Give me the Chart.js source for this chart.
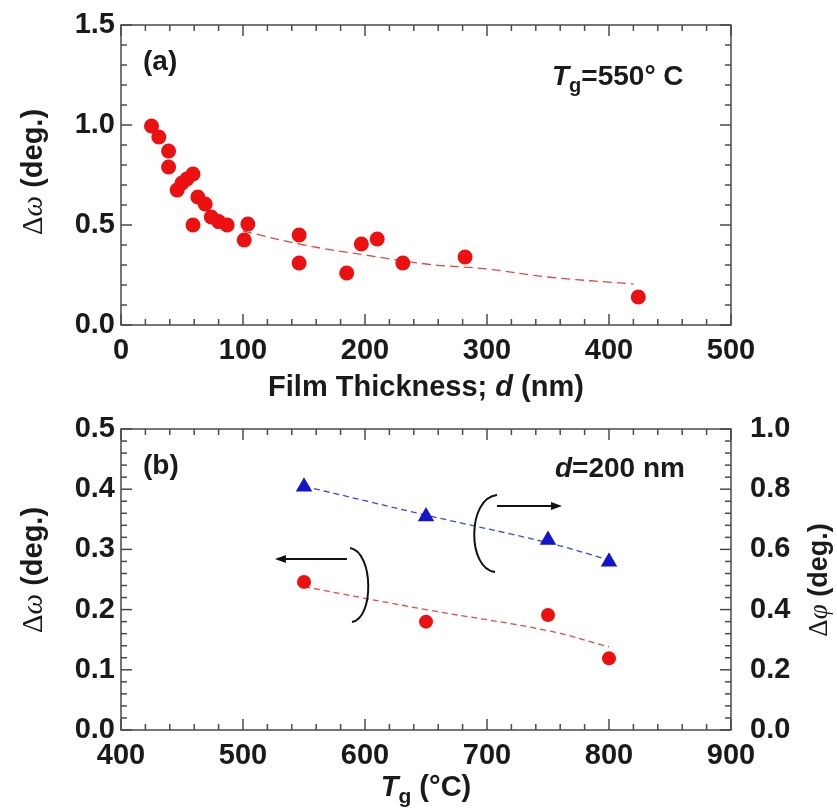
<!DOCTYPE html>
<html>
<head>
<meta charset="utf-8">
<script src="https://cdn.jsdelivr.net/npm/chart.js@4.4.1/dist/chart.umd.min.js"></script>
<style>
  html, body { margin: 0; padding: 0; background: #fff; }
  #wrap { position: relative; width: 837px; height: 810px; }
  .panel { position: absolute; left: 0; width: 837px; }
  #pa { top: 0; height: 412px; }
  #pb { top: 400px; height: 410px; }
</style>
</head>
<body>
<div id="wrap">
  <div class="panel" id="pa"><canvas id="chartA"></canvas></div>
  <div class="panel" id="pb"><canvas id="chartB"></canvas></div>
</div>
<script>
// (a) rocking-curve width vs film thickness, Tg = 550 C
const thickness = [25, 31, 39, 39, 46, 50, 54, 59, 59, 63, 69, 74, 80, 87, 101, 104, 146, 146, 185, 197, 210, 231, 282, 424];
const omegaA = [0.995, 0.94, 0.87, 0.79, 0.675, 0.71, 0.73, 0.755, 0.50, 0.64, 0.605, 0.54, 0.517, 0.50, 0.425, 0.505, 0.45, 0.31, 0.26, 0.405, 0.43, 0.31, 0.34, 0.14];
const fitThickness = [100, 150, 200, 250, 300, 350, 420];
const fitOmegaA = [0.47, 0.40, 0.35, 0.305, 0.28, 0.24, 0.205];
const thicknessTicks = [0, 100, 200, 300, 400, 500];
const omegaTicksA = [0, 0.5, 1.0, 1.5];

// (b) widths vs growth temperature, d = 200 nm
const growthTemp = [550, 650, 750, 800];
const omegaB = [0.246, 0.180, 0.191, 0.119];
const phiB = [0.808, 0.709, 0.631, 0.559];
const fitOmegaB = [0.238, 0.200, 0.165, 0.138];
const fitPhiB = [0.81, 0.714, 0.622, 0.565];
const tempTicks = [400, 500, 600, 700, 800, 900];
const omegaTicksB = [0, 0.1, 0.2, 0.3, 0.4, 0.5];
const phiTicksB = [0, 0.2, 0.4, 0.6, 0.8, 1.0];

const ink = '#1a1a1a';
const sans = "'Liberation Sans', Arial, sans-serif";
const serif = "'Liberation Serif', 'Times New Roman', serif";
const tickFont = { family: sans, size: 29, weight: 'bold' };
const red = '#ec1010';
const blue = '#1414cc';

const pts = (xs, ys) => xs.map((x, i) => ({ x: x, y: ys[i] }));
const useTicks = list => s => { s.ticks = list.map(v => ({ value: v })); };
// fixed axis thickness, no extra room for end labels
const fixWidth = w => s => { s.width = w; s.paddingTop = 0; s.paddingBottom = 0; };
const fixHeight = h => s => { s.height = h; s.paddingLeft = 0; s.paddingRight = 0; };

// draws a line of mixed-font text, centred or left aligned, optionally rotated
function drawRuns(ctx, runs, x, y, align, rotate) {
  ctx.save();
  ctx.translate(x, y);
  if (rotate) ctx.rotate(rotate);
  let total = 0;
  runs.forEach(r => { ctx.font = r.font; r.w = ctx.measureText(r.text).width; total += r.w; });
  let cx = align === 'left' ? 0 : -total / 2;
  ctx.textBaseline = 'alphabetic';
  ctx.textAlign = 'left';
  ctx.fillStyle = ink;
  runs.forEach(r => { ctx.font = r.font; ctx.fillText(r.text, cx, r.dy || 0); cx += r.w; });
  ctx.restore();
}

function arrow(ctx, x1, y1, x2, y2) {
  const a = Math.atan2(y2 - y1, x2 - x1);
  ctx.beginPath();
  ctx.moveTo(x1, y1);
  ctx.lineTo(x2 - 8 * Math.cos(a), y2 - 8 * Math.sin(a));
  ctx.stroke();
  ctx.beginPath();
  ctx.moveTo(x2, y2);
  ctx.lineTo(x2 - 11 * Math.cos(a) + 4 * Math.sin(a), y2 - 11 * Math.sin(a) - 4 * Math.cos(a));
  ctx.lineTo(x2 - 11 * Math.cos(a) - 4 * Math.sin(a), y2 - 11 * Math.sin(a) + 4 * Math.cos(a));
  ctx.closePath();
  ctx.fill();
}

// frame round the plot area with inward major/minor ticks
const frameTicks = {
  id: 'frameTicks',
  beforeDatasetsDraw(chart, args, opts) {
    if (!opts.axes) return;
    const { ctx, chartArea: a, scales } = chart;
    ctx.save();
    ctx.strokeStyle = '#4a4a4a';
    ctx.lineWidth = 1.5;
    const line = (x1, y1, x2, y2) => { ctx.beginPath(); ctx.moveTo(x1, y1); ctx.lineTo(x2, y2); ctx.stroke(); };
    opts.axes.forEach(ax => {
      const s = scales[ax.id];
      const n = Math.round((s.max - s.min) / ax.minor);
      for (let i = 0; i <= n; i++) {
        const v = s.min + i * ax.minor;
        const q = (v - s.min) / ax.major;
        const len = Math.abs(q - Math.round(q)) < 1e-6 ? 11 : 6;
        const p = s.getPixelForValue(v);
        ax.sides.forEach(side => {
          if (side === 'bottom') line(p, a.bottom, p, a.bottom - len);
          if (side === 'top') line(p, a.top, p, a.top + len);
          if (side === 'left') line(a.left, p, a.left + len, p);
          if (side === 'right') line(a.right, p, a.right - len, p);
        });
      }
    });
    ctx.strokeRect(a.left, a.top, a.right - a.left, a.bottom - a.top);
    ctx.restore();
  }
};
Chart.register(frameTicks);

const baseScale = {
  type: 'linear',
  grid: { display: false, drawTicks: false },
  border: { display: false }
};

// ---------- panel (a) ----------
new Chart(document.getElementById('chartA'), {
  type: 'scatter',
  data: {
    datasets: [
      {
        data: pts(thickness, omegaA),
        backgroundColor: red,
        borderWidth: 0,
        pointRadius: 7.5
      },
      {
        data: pts(fitThickness, fitOmegaA),
        showLine: true,
        tension: 0.4,
        borderColor: '#e04848',
        borderWidth: 1.3,
        borderDash: [9, 5],
        pointRadius: 0
      }
    ]
  },
  options: {
    responsive: true,
    maintainAspectRatio: false,
    animation: false,
    events: [],
    layout: { padding: { top: 25, right: 106, left: 0, bottom: 0 }, autoPadding: false },
    plugins: {
      legend: { display: false },
      tooltip: { enabled: false },
      frameTicks: {
        axes: [
          { id: 'x', major: 100, minor: 20, sides: ['bottom', 'top'] },
          { id: 'y', major: 0.5, minor: 0.1, sides: ['left', 'right'] }
        ]
      }
    },
    scales: {
      x: Object.assign({}, baseScale, {
        min: 0, max: 500,
        afterBuildTicks: useTicks(thicknessTicks),
        afterFit: fixHeight(87),
        ticks: { font: tickFont, color: ink, padding: 9, maxRotation: 0, autoSkip: false, callback: v => String(v) }
      }),
      y: Object.assign({}, baseScale, {
        min: 0, max: 1.5,
        afterBuildTicks: useTicks(omegaTicksA),
        afterFit: fixWidth(121),
        ticks: { font: tickFont, color: ink, padding: 6, autoSkip: false, callback: v => v.toFixed(1) }
      })
    }
  },
  plugins: [{
    id: 'notesA',
    afterDraw(chart) {
      const { ctx, chartArea: a } = chart;
      const b = 'bold 28px ' + sans;
      drawRuns(ctx, [{ text: '(a)', font: b }], a.left + 22, 70, 'left');
      drawRuns(ctx, [
        { text: 'T', font: 'italic ' + b },
        { text: 'g', font: 'bold 20px ' + sans, dy: 7 },
        { text: '=550° C', font: b }
      ], a.left + 431, 85, 'left');
      drawRuns(ctx, [
        { text: 'Film Thickness; ', font: 'bold 29px ' + sans },
        { text: 'd', font: 'italic bold 29px ' + sans },
        { text: ' (nm)', font: 'bold 29px ' + sans }
      ], (a.left + a.right) / 2, 396, 'center');
      drawRuns(ctx, [
        { text: 'Δ', font: '29px ' + serif },
        { text: 'ω', font: 'italic 29px ' + serif },
        { text: ' (deg.)', font: 'bold 29px ' + sans }
      ], 42, 172, 'center', -Math.PI / 2);
    }
  }]
});

// ---------- panel (b) ----------
new Chart(document.getElementById('chartB'), {
  type: 'scatter',
  data: {
    datasets: [
      {
        data: pts(growthTemp, omegaB),
        yAxisID: 'y',
        backgroundColor: red,
        borderWidth: 0,
        pointRadius: 7
      },
      {
        data: pts(growthTemp, phiB),
        yAxisID: 'y2',
        pointStyle: 'triangle',
        backgroundColor: blue,
        borderWidth: 0,
        pointRadius: 9.5
      },
      {
        data: pts(growthTemp, fitOmegaB),
        yAxisID: 'y',
        showLine: true,
        tension: 0.4,
        borderColor: '#e04848',
        borderWidth: 1.3,
        borderDash: [6, 4],
        pointRadius: 0
      },
      {
        data: pts(growthTemp, fitPhiB),
        yAxisID: 'y2',
        showLine: true,
        tension: 0.4,
        borderColor: '#3a48d8',
        borderWidth: 1.3,
        borderDash: [6, 4],
        pointRadius: 0
      }
    ]
  },
  options: {
    responsive: true,
    maintainAspectRatio: false,
    animation: false,
    events: [],
    layout: { padding: { top: 29, right: 0, left: 0, bottom: 0 }, autoPadding: false },
    plugins: {
      legend: { display: false },
      tooltip: { enabled: false },
      frameTicks: {
        axes: [
          { id: 'x', major: 100, minor: 20, sides: ['bottom', 'top'] },
          { id: 'y', major: 0.1, minor: 0.02, sides: ['left'] },
          { id: 'y2', major: 0.2, minor: 0.04, sides: ['right'] }
        ]
      }
    },
    scales: {
      x: Object.assign({}, baseScale, {
        min: 400, max: 900,
        afterBuildTicks: useTicks(tempTicks),
        afterFit: fixHeight(80),
        ticks: { font: tickFont, color: ink, padding: 9, maxRotation: 0, autoSkip: false, callback: v => String(v) }
      }),
      y: Object.assign({}, baseScale, {
        position: 'left',
        min: 0, max: 0.5,
        afterBuildTicks: useTicks(omegaTicksB),
        afterFit: fixWidth(121),
        ticks: { font: tickFont, color: ink, padding: 6, autoSkip: false, callback: v => v.toFixed(1) }
      }),
      y2: Object.assign({}, baseScale, {
        position: 'right',
        min: 0, max: 1.0,
        afterBuildTicks: useTicks(phiTicksB),
        afterFit: fixWidth(106),
        ticks: { font: tickFont, color: ink, padding: 19, autoSkip: false, callback: v => v.toFixed(1) }
      })
    }
  },
  plugins: [{
    id: 'notesB',
    afterDraw(chart) {
      const { ctx, chartArea: a, scales } = chart;
      const b = 'bold 28px ' + sans;
      const X = t => scales.x.getPixelForValue(t);
      const Y = v => scales.y.getPixelForValue(v);
      drawRuns(ctx, [{ text: '(b)', font: b }], a.left + 22, 74, 'left');
      drawRuns(ctx, [
        { text: 'd', font: 'italic ' + b },
        { text: '=200 nm', font: b }
      ], a.left + 434, 77, 'left');
      drawRuns(ctx, [
        { text: 'T', font: 'italic bold 29px ' + sans },
        { text: 'g', font: 'bold 21px ' + sans, dy: 7 },
        { text: ' (°C)', font: 'bold 29px ' + sans }
      ], (a.left + a.right) / 2, 396, 'center');
      drawRuns(ctx, [
        { text: 'Δ', font: '29px ' + serif },
        { text: 'ω', font: 'italic 29px ' + serif },
        { text: ' (deg.)', font: 'bold 29px ' + sans }
      ], 42, 170, 'center', -Math.PI / 2);
      drawRuns(ctx, [
        { text: 'Δ', font: '27px ' + serif },
        { text: 'φ', font: 'italic 27px ' + serif },
        { text: ' (deg.)', font: 'bold 27px ' + sans }
      ], 827, 180, 'center', -Math.PI / 2);

      // brackets with arrows pointing to the axis each series belongs to
      ctx.save();
      ctx.strokeStyle = '#111';
      ctx.fillStyle = '#111';
      ctx.lineWidth = 2;
      ctx.beginPath();
      ctx.moveTo(X(587.7), Y(0.3023));
      ctx.bezierCurveTo(X(607.4), Y(0.2957), X(607.4), Y(0.1844), X(589.3), Y(0.1794));
      ctx.stroke();
      arrow(ctx, X(585.2), Y(0.2841), X(526.2), Y(0.2841));
      ctx.beginPath();
      ctx.moveTo(X(708.2), Y(0.3904));
      ctx.bezierCurveTo(X(683.6), Y(0.3854), X(683.6), Y(0.2674), X(706.6), Y(0.2625));
      ctx.stroke();
      arrow(ctx, X(708.2), Y(0.3721), X(761.5), Y(0.3721));
      ctx.restore();
    }
  }]
});
</script>
</body>
</html>
